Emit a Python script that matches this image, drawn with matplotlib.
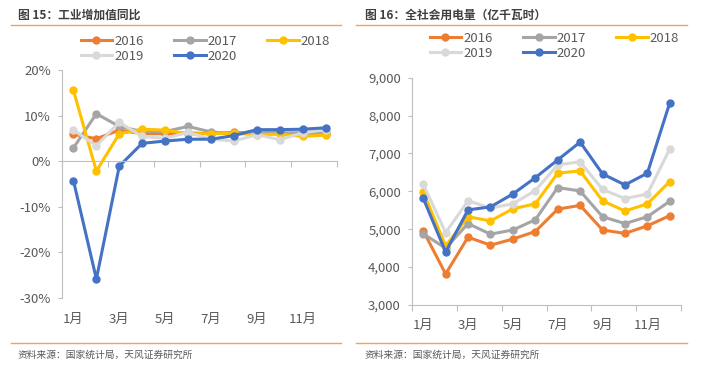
import matplotlib
matplotlib.use('Agg')
import matplotlib.pyplot as plt
from matplotlib.lines import Line2D
from matplotlib.ticker import FuncFormatter

plt.rcParams['font.family'] = ['Noto Sans CJK SC', 'DejaVu Sans']

months = list(range(1, 13))
years = ['2016', '2017', '2018', '2019', '2020']
colors = ['#ED7D31', '#A5A5A5', '#FFC000', '#D9D9D9', '#4472C4']

# 工业增加值同比 (%)
ind_2016 = [5.9, 4.9, 6.8, 6.0, 6.0, 6.2, 6.0, 6.3, 6.1, 6.1, 6.2, 6.0]
ind_2017 = [2.9, 10.4, 7.6, 6.5, 6.5, 7.6, 6.4, 6.0, 6.6, 6.2, 6.1, 6.2]
ind_2018 = [15.5, -2.2, 6.0, 7.0, 6.8, 6.0, 6.0, 6.1, 5.8, 5.9, 5.4, 5.7]
ind_2019 = [6.8, 3.4, 8.5, 5.4, 5.0, 6.3, 4.8, 4.4, 5.8, 4.7, 6.2, 6.9]
ind_2020 = [-4.3, -25.9, -1.1, 3.9, 4.4, 4.8, 4.8, 5.6, 6.9, 6.9, 7.0, 7.3]

# 全社会用电量 (亿千瓦时)
elec_2016 = [4960, 3820, 4790, 4580, 4740, 4940, 5530, 5630, 4980, 4890, 5090, 5360]
elec_2017 = [4880, 4500, 5150, 4870, 4980, 5250, 6100, 6010, 5330, 5150, 5330, 5740]
elec_2018 = [5990, 4560, 5330, 5220, 5540, 5670, 6480, 6540, 5750, 5480, 5670, 6260]
elec_2019 = [6190, 4910, 5750, 5560, 5670, 6020, 6700, 6780, 6050, 5810, 5930, 7120]
elec_2020 = [5820, 4400, 5510, 5590, 5930, 6360, 6830, 7300, 6460, 6170, 6480, 8340]

ind_series = [ind_2016, ind_2017, ind_2018, ind_2019, ind_2020]
elec_series = [elec_2016, elec_2017, elec_2018, elec_2019, elec_2020]

W, H = 703, 366
fig = plt.figure(figsize=(W / 100, H / 100), dpi=100)

TXT = '#595959'
SPINE = '#BFBFBF'
ORANGE = '#F0A35A'


def px_axes(x0, y0, x1, y1):
    return fig.add_axes([x0 / W, 1 - y1 / H, (x1 - x0) / W, (y1 - y0) / H])


def style_axes(ax, label_ax, pad):
    for s in ['top', 'right']:
        ax.spines[s].set_visible(False)
    ax.spines['left'].set_color(SPINE)
    ax.spines['bottom'].set_color(SPINE)
    ax.set_xlim(0.5, 12.5)
    ax.set_xticks([0.5, 2.5, 4.5, 6.5, 8.5, 10.5, 12.5])
    ax.tick_params(axis='x', labelbottom=False, length=4, color=SPINE, direction='out')
    ax.tick_params(axis='y', length=3, color=SPINE, labelcolor=TXT, labelsize=9.5, pad=5)
    label_ax.set_xticks(months[::2], [f'{m}月' for m in months[::2]])
    label_ax.tick_params(length=0, pad=pad, labelcolor=TXT, labelsize=9.5)
    label_ax.spines['bottom'].set_visible(False)


def add_legend(x, y):
    handles = [Line2D([], [], color=c, lw=2.2, marker='o', ms=5) for c in colors]
    # legend fills by column; reorder so it reads row by row
    order = [0, 3, 1, 4, 2]
    fig.legend([handles[i] for i in order], [years[i] for i in order],
               loc='upper left', bbox_to_anchor=(x / W, 1 - y / H),
               ncol=3, frameon=False, fontsize=9.5, handlelength=2.4,
               handletextpad=0.15, columnspacing=2.3, borderpad=0, labelspacing=0.15,
               labelcolor=TXT)


# left chart
ax1 = px_axes(62, 70, 337, 297.7)
for vals, c in zip(ind_series, colors):
    ax1.plot(months, vals, color=c, lw=2.2, marker='o', ms=5)
ax1.set_ylim(-30, 20)
ax1.set_yticks(range(-30, 21, 10))
ax1.yaxis.set_major_formatter(FuncFormatter(lambda v, p: f'{v:.0f}%'))
ax1.spines['bottom'].set_position(('data', 0))
sec1 = ax1.secondary_xaxis('bottom')
style_axes(ax1, sec1, 11)
add_legend(74, 28)

# right chart
ax2 = px_axes(412, 77.7, 681, 305)
for vals, c in zip(elec_series, colors):
    ax2.plot(months, vals, color=c, lw=2.2, marker='o', ms=5)
ax2.set_ylim(3000, 9000)
ax2.set_yticks(range(3000, 9001, 1000))
ax2.yaxis.set_major_formatter(FuncFormatter(lambda v, p: f'{v:,.0f}'))
sec2 = ax2.secondary_xaxis('bottom')
style_axes(ax2, sec2, 10)
add_legend(423, 25)

# titles, separators, sources
fig.text(18 / W, 1 - 15 / H, '图 15：工业增加值同比', fontsize=8.5, fontweight='bold',
         color='#404040', va='center')
fig.text(365 / W, 1 - 15 / H, '图 16：全社会用电量（亿千瓦时）', fontsize=8.5, fontweight='bold',
         color='#404040', va='center')
for x0, x1 in [(11, 341), (356, 687)]:
    for yy in [25, 343]:
        fig.add_artist(Line2D([x0 / W, x1 / W], [1 - yy / H, 1 - yy / H],
                              color=ORANGE, lw=1.0))
fig.text(18 / W, 1 - 355 / H, '资料来源：国家统计局，天风证券研究所', fontsize=7,
         color=TXT, va='center')
fig.text(365 / W, 1 - 355 / H, '资料来源：国家统计局，天风证券研究所', fontsize=7,
         color=TXT, va='center')

fig.savefig('out.png', dpi=100)
